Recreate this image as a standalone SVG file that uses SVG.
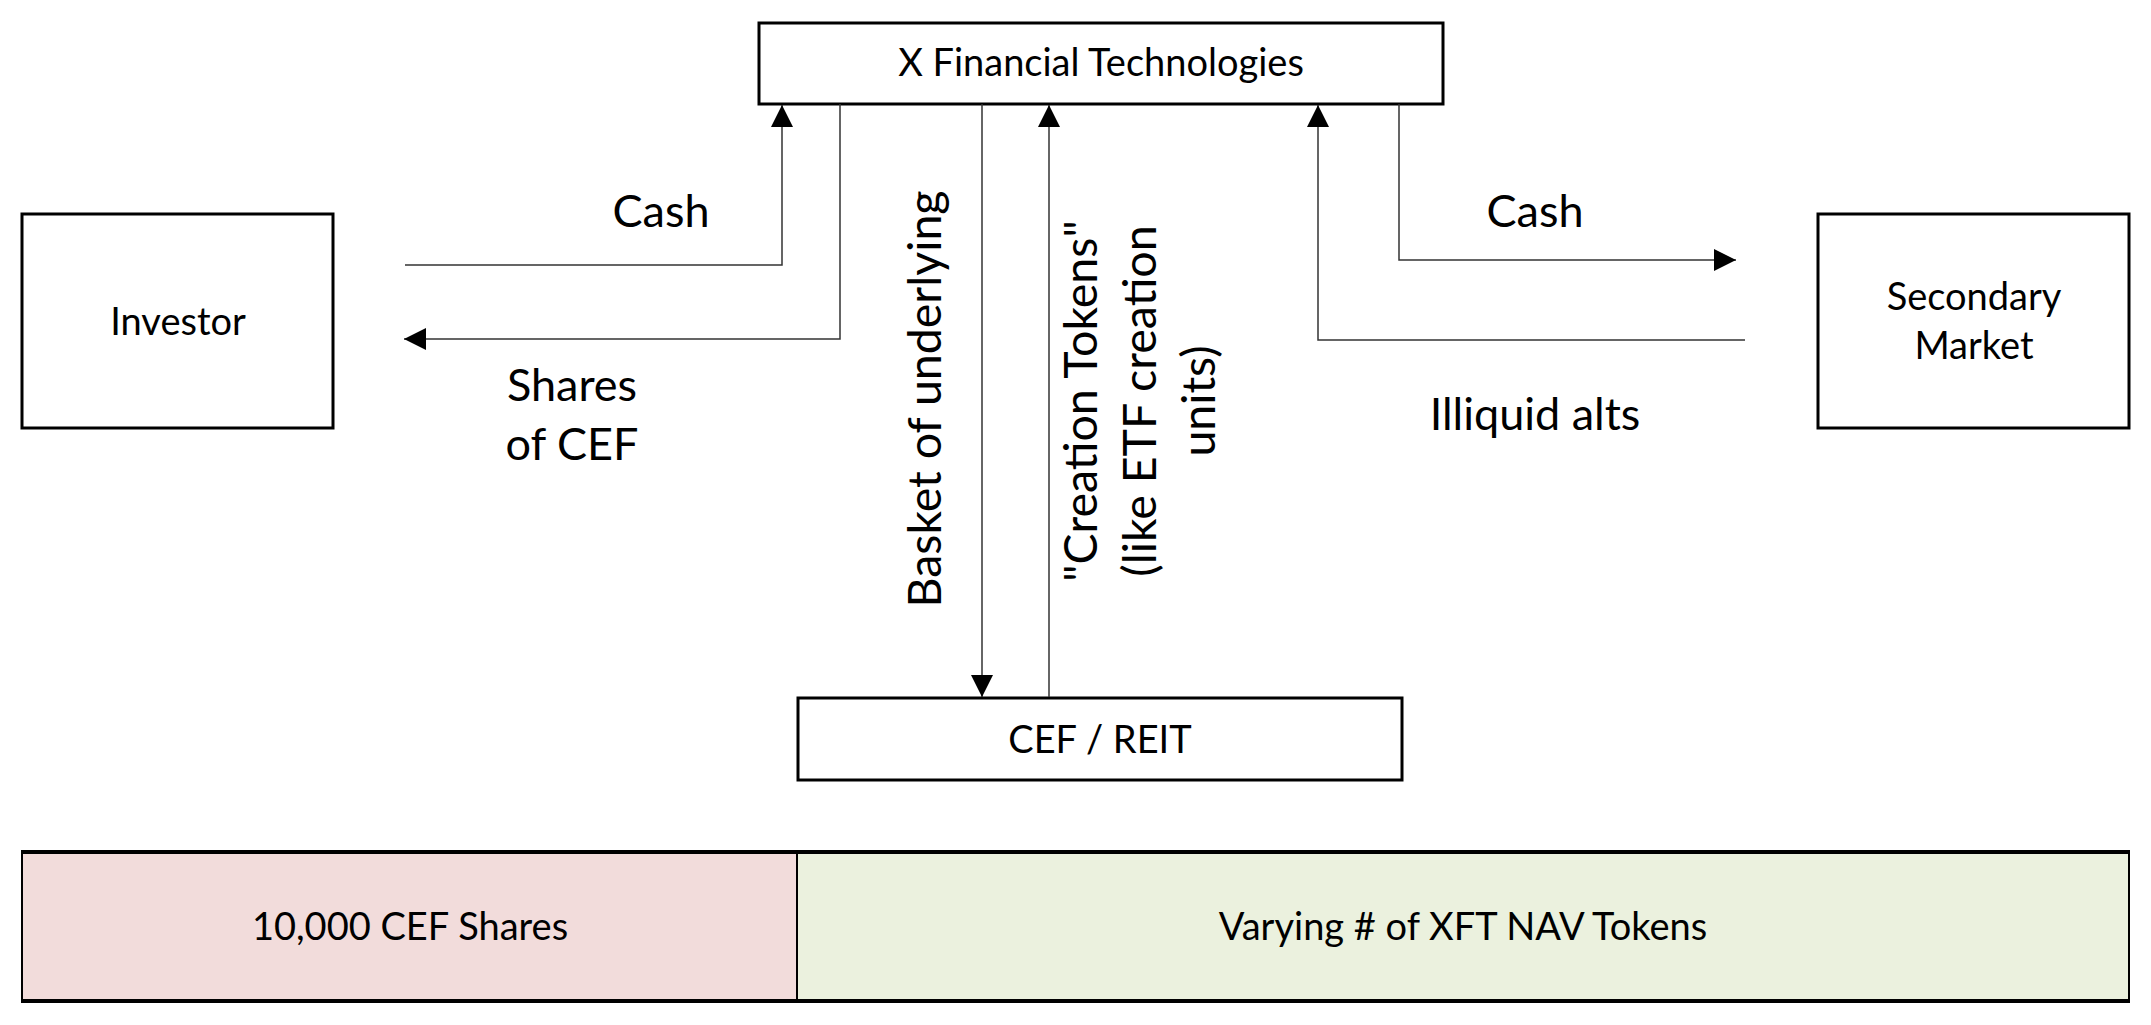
<svg xmlns="http://www.w3.org/2000/svg" width="2151" height="1025" viewBox="0 0 2151 1025">
<style>
.box{fill:#fff;stroke:#000;stroke-width:3}
.t{font-family:Lato,"Open Sans",sans-serif;fill:#000;text-anchor:middle}
.n{font-size:38px}
.l{font-size:45px}
.r{font-size:46.5px}
.c{fill:none;stroke:#333;stroke-width:1.5}
</style>
<defs>
<marker id="ah" markerUnits="userSpaceOnUse" markerWidth="22" markerHeight="22" refX="22" refY="11" orient="auto">
<path d="M0,0 L22,11 L0,22 Z" fill="#000"/>
</marker>
</defs>
<rect width="2151" height="1025" fill="#fff"/>
<g id="xft">
<rect class="box" x="759" y="23" width="684" height="81"/>
<text class="t n" x="1101" y="76">X Financial Technologies</text>
</g>
<g id="investor">
<rect class="box" x="22" y="214" width="311" height="214"/>
<text class="t n" x="178" y="335">Investor</text>
</g>
<g id="secondary">
<rect class="box" x="1818" y="214" width="311" height="214"/>
<text class="t n" x="1974" y="310">Secondary</text>
<text class="t n" x="1974" y="359">Market</text>
</g>
<g id="cef">
<rect class="box" x="798" y="698" width="604" height="82"/>
<text class="t n" x="1100" y="753">CEF / REIT</text>
</g>
<g id="bar">
<rect x="22" y="852" width="775" height="149" fill="#F2DCDB"/>
<rect x="797" y="852" width="1332" height="149" fill="#EBF1DE"/>
<rect x="22" y="852" width="2107" height="149" fill="none" stroke="#000" stroke-width="2"/>
<line x1="21" y1="852" x2="2130" y2="852" stroke="#000" stroke-width="4"/>
<line x1="21" y1="1001" x2="2130" y2="1001" stroke="#000" stroke-width="4"/>
<line x1="797" y1="852" x2="797" y2="1001" stroke="#000" stroke-width="2"/>
<text class="t n" x="410" y="940">10,000 CEF Shares</text>
<text class="t n" x="1463" y="940">Varying # of XFT NAV Tokens</text>
</g>
<g id="connectors">
<polyline class="c" points="405,265 782,265 782,105" marker-end="url(#ah)"/>
<polyline class="c" points="840,104 840,339 404,339" marker-end="url(#ah)"/>
<polyline class="c" points="982,104 982,697" marker-end="url(#ah)"/>
<polyline class="c" points="1049,697 1049,105" marker-end="url(#ah)"/>
<polyline class="c" points="1745,340 1318,340 1318,105" marker-end="url(#ah)"/>
<polyline class="c" points="1399,104 1399,260 1736,260" marker-end="url(#ah)"/>
</g>
<g id="labels">
<text class="t l" x="661" y="227">Cash</text>
<text class="t l" x="572" y="401">Shares</text>
<text class="t l" x="572" y="460">of CEF</text>
<text class="t l" x="1535" y="227">Cash</text>
<text class="t l" x="1535" y="430">Illiquid alts</text>
<text class="t r" transform="translate(941,399) rotate(-90)">Basket of underlying</text>
<text class="t r" transform="translate(1097,401) rotate(-90)"><tspan x="0" y="0">"Creation Tokens"</tspan><tspan x="0" y="59">(like ETF creation</tspan><tspan x="0" y="118">units)</tspan></text>
</g>
</svg>
